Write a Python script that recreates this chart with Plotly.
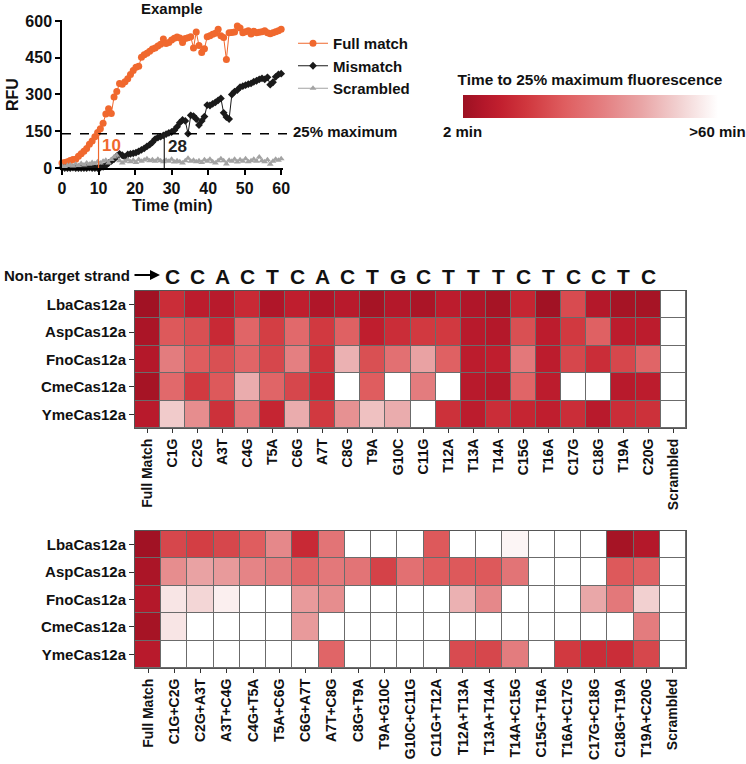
import plotly.graph_objects as go

W, H = 746, 764
FONT = "Liberation Sans, Arial, Helvetica, sans-serif"
ORANGE = "#f0682e"
BLACK = "#1a1a1a"
GRAY = "#a3a3a3"

# ---------------- line chart data ----------------
time_min = [0, 0.75, 1.5, 2.25, 3, 3.75, 4.5, 5.25, 6, 6.75, 7.5, 8.25, 9, 9.75, 10.5, 11.25,
            12, 12.75, 13.5, 14.25, 15, 15.75, 16.5, 17.25, 18, 18.75, 19.5, 20.25, 21, 21.75,
            22.5, 23.25, 24, 24.75, 25.5, 26.25, 27, 27.75, 28.5, 29.25, 30, 30.75, 31.5, 32.25,
            33, 33.75, 34.5, 35.25, 36, 36.75, 37.5, 38.25, 39, 39.75, 40.5, 41.25, 42, 42.75,
            43.5, 44.25, 45, 45.75, 46.5, 47.25, 48, 48.75, 49.5, 50.25, 51, 51.75, 52.5, 53.25,
            54, 54.75, 55.5, 56.25, 57, 57.75, 58.5, 59.25, 60]
full_match = [20, 22, 26, 31, 35, 36, 48, 58, 68, 80, 97, 110, 128, 145, 160, 183,
              220, 242, 222, 290, 312, 345, 342, 352, 364, 382, 398, 411, 415, 452,
              462, 468, 476, 486, 490, 498, 505, 526, 508, 512, 522, 530, 535, 531,
              512, 528, 532, 536, 490, 555, 500, 471, 487, 536, 540, 546, 550, 566,
              540, 533, 443, 552, 553, 555, 580, 571, 552, 556, 560, 547, 558, 552,
              554, 556, 560, 552, 548, 552, 556, 560, 566]
mismatch = [2, 0, 0, 0, 2, 0, 0, 0, 0, 0, 2, 0, 0, 0, 2, 5,
            10, 20, 28, 36, 48, 58, 52, 45, 55, 58, 60, 63, 68, 74,
            80, 88, 95, 105, 118, 124, 128, 133, 138, 143, 147, 154, 168, 185,
            196, 192, 140, 215, 212, 200, 175, 192, 210, 257, 255, 262, 268, 276,
            284, 225, 208, 200, 300, 312, 318, 330, 334, 338, 342, 345, 352, 356,
            362, 366, 362, 370, 340, 350, 372, 382, 385]
scrambled = [8, 5, 10, 12, 8, 15, 10, 18, 12, 20, 15, 22, 18, 25, 20, 28,
             32, 20, 35, 45, 52, 30, 20, 28, 35, 25, 32, 22, 35, 28,
             33, 38, 30, 34, 28, 36, 30, 25, 32, 28, 36, 24, 30, 26,
             20, 30, 40, 28, 32, 25, 30, 22, 34, 28, 36, 26, 20, 30,
             38, 30, 16, 32, 28, 36, 24, 34, 28, 38, 26, 30, 36, 28,
             45, 30, 26, 34, 15, 28, 36, 32, 38]
threshold_rfu = 140          # 25% maximum
cross_full = 10              # minutes
cross_mismatch = 28          # minutes
cross_scrambled_label = ">60"

# ---------------- heatmap data (time to 25% max, minutes; 61 = >60 min) ----------------
NA = 61
enzymes = ["LbaCas12a", "AspCas12a", "FnoCas12a", "CmeCas12a", "YmeCas12a"]
strand_letters = ["C", "C", "A", "C", "T", "C", "A", "C", "T", "G",
                  "C", "T", "T", "T", "C", "T", "C", "C", "T", "C"]
single_cols = ["Full Match", "C1G", "C2G", "A3T", "C4G", "T5A", "C6G", "A7T", "C8G", "T9A",
               "G10C", "C11G", "T12A", "T13A", "T14A", "C15G", "T16A", "C17G", "C18G",
               "T19A", "C20G", "Scrambled"]
single_lba = [3, 14, 9, 8, 13, 6, 10, 6, 8, 4, 7, 5, 9, 6, 4, 12, 3, 21, 7, 4, 4, NA]
single_asp = [5, 24, 22, 13, 27, 18, 28, 17, 26, 10, 14, 17, 17, 8, 7, 22, 9, 17, 26, 9, 9, NA]
single_fno = [7, 33, 25, 22, 27, 20, 34, 15, 45, 22, 30, 42, 26, 9, 10, 32, 9, 20, 14, 20, 27, NA]
single_cme = [4, 28, 17, 24, 44, 27, 20, 13, NA, 25, NA, 33, NA, 8, 7, 27, 9, NA, NA, 8, 9, NA]
single_yme = [8, 50, 37, 15, 32, 12, 44, 17, 38, 48, 44, NA, 15, 9, 14, 12, 10, 14, 8, 14, 15, NA]

double_cols = ["Full Match", "C1G+C2G", "C2G+A3T", "A3T+C4G", "C4G+T5A", "T5A+C6G", "C6G+A7T",
               "A7T+C8G", "C8G+T9A", "T9A+G10C", "G10C+C11G", "C11G+T12A", "T12A+T13A",
               "T13A+T14A", "T14A+C15G", "C15G+T16A", "T16A+C17G", "C17G+C18G", "C18G+T19A",
               "T19A+C20G", "Scrambled"]
double_lba = [3, 20, 18, 20, 25, 36, 13, 31, NA, NA, NA, 24, NA, NA, 58, NA, NA, NA, 4, 7, NA]
double_asp = [5, 37, 42, 40, 35, 33, 27, 32, 31, 19, 30, 25, 24, 24, 31, NA, NA, NA, 24, 26, NA]
double_fno = [7, 55, 52, 57, NA, NA, 40, 37, NA, NA, NA, NA, 45, 36, NA, NA, NA, 43, 32, 51, NA]
double_cme = [4, 55, NA, NA, NA, NA, 40, NA, NA, NA, NA, NA, NA, NA, NA, NA, NA, NA, NA, 33, NA]
double_yme = [8, NA, NA, NA, NA, NA, NA, 27, NA, NA, NA, NA, 21, 20, 33, NA, 17, 14, 14, 20, NA]

cbar_min, cbar_max = 2, 60
cbar_labels = ["2 min", ">60 min"]


def px(x):
    return x / W


def py(y):
    return 1 - y / H


fig = go.Figure()

# line chart traces
fig.add_trace(go.Scatter(x=time_min, y=full_match, name="Full match", mode="lines+markers",
                         line=dict(color=ORANGE, width=1),
                         marker=dict(symbol="circle", size=7, color=ORANGE),
                         cliponaxis=False, xaxis="x", yaxis="y"))
fig.add_trace(go.Scatter(x=time_min, y=mismatch, name="Mismatch", mode="lines+markers",
                         line=dict(color=BLACK, width=1),
                         marker=dict(symbol="diamond", size=6, color=BLACK),
                         cliponaxis=False, xaxis="x", yaxis="y"))
fig.add_trace(go.Scatter(x=time_min, y=scrambled, name="Scrambled", mode="lines+markers",
                         line=dict(color=GRAY, width=1),
                         marker=dict(symbol="triangle-up", size=6, color=GRAY),
                         cliponaxis=False, xaxis="x", yaxis="y"))

# heatmaps
fig.add_trace(go.Heatmap(z=[single_lba, single_asp, single_fno, single_cme, single_yme],
                         x=single_cols, y=enzymes, coloraxis="coloraxis",
                         xgap=1, ygap=1, xaxis="x2", yaxis="y2", hoverinfo="skip"))
fig.add_trace(go.Heatmap(z=[double_lba, double_asp, double_fno, double_cme, double_yme],
                         x=double_cols, y=enzymes, coloraxis="coloraxis",
                         xgap=1, ygap=1, xaxis="x3", yaxis="y3", hoverinfo="skip"))

bold = dict(family=FONT, weight="bold", color="#111111")

line_axis = dict(showline=True, linecolor="black", linewidth=1.5, ticks="outside",
                 ticklen=5, tickwidth=1.5, tickcolor="black", showgrid=False, zeroline=False,
                 tickfont=dict(bold, size=16))

heat_x = dict(type="category", showline=True, mirror=True, linecolor="#555555", linewidth=1,
              ticks="outside", ticklen=4, tickcolor="#333333", tickangle=-90,
              tickfont=dict(bold, size=14), showgrid=False, zeroline=False)
heat_y = dict(type="category", autorange="reversed", showline=True, mirror=True,
              linecolor="#555555", linewidth=1, ticks="outside", ticklen=5, tickcolor="#333333",
              tickfont=dict(bold, size=15), showgrid=False, zeroline=False)

colorscale = [[0.0, "#9c1122"], [0.08, "#b3172a"], [0.15, "#c2202f"], [0.25, "#d0373e"],
              [0.4, "#df5e60"], [0.55, "#e47f81"], [0.7, "#e9a5a6"], [0.85, "#f2d2d2"],
              [1.0, "#ffffff"]]

annotations = [
    dict(text="Example", x=px(172), y=py(8), xref="paper", yref="paper", showarrow=False,
         xanchor="center", yanchor="middle", font=dict(bold, size=15)),
    dict(text="RFU", x=px(13), y=py(95), xref="paper", yref="paper", showarrow=False,
         xanchor="center", yanchor="middle", textangle=-90, font=dict(bold, size=16)),
    dict(text="Time (min)", x=px(172), y=py(206), xref="paper", yref="paper", showarrow=False,
         xanchor="center", yanchor="middle", font=dict(bold, size=16)),
    dict(text=str(cross_full), x=cross_full + 0.4, y=92, xref="x", yref="y", xanchor="left",
         showarrow=False, font=dict(bold, size=17, color=ORANGE)),
    dict(text=str(cross_mismatch), x=cross_mismatch + 0.4, y=88, xref="x", yref="y",
         xanchor="left", showarrow=False, font=dict(bold, size=17, color="#222222")),
    dict(text=cross_scrambled_label, x=60.8, y=92, xref="x", yref="y", xanchor="right",
         showarrow=False, font=dict(bold, size=17, color=GRAY)),
    dict(text="25% maximum", x=px(291), y=threshold_rfu + 10, xref="paper", yref="y",
         xanchor="left", yanchor="middle", showarrow=False, font=dict(bold, size=15)),
    dict(text="Non-target strand", x=px(2), y=py(275), xref="paper", yref="paper",
         xanchor="left", yanchor="middle", showarrow=False, font=dict(bold, size=15)),
    dict(text="", x=px(160), y=py(275), ax=-27, ay=0, xref="paper", yref="paper",
         showarrow=True, arrowhead=2, arrowsize=1, arrowwidth=2, arrowcolor="black"),
]
for col, letter in zip(single_cols[1:-1], strand_letters):
    annotations.append(dict(text=letter, x=col, y=py(276), xref="x2", yref="paper",
                            xanchor="center", yanchor="middle",
                            showarrow=False, font=dict(bold, size=21)))

shapes = [
    dict(type="line", xref="paper", yref="y", x0=px(62), x1=px(289), y0=threshold_rfu,
         y1=threshold_rfu, line=dict(color="black", width=1.5, dash="dash")),
    dict(type="line", xref="x", yref="y", x0=cross_full, x1=cross_full, y0=0,
         y1=threshold_rfu, line=dict(color=ORANGE, width=1.2)),
    dict(type="line", xref="x", yref="y", x0=cross_mismatch, x1=cross_mismatch, y0=0,
         y1=threshold_rfu, line=dict(color="#222222", width=1.2)),
    dict(type="rect", xref="x2 domain", yref="y2 domain", x0=0, x1=1, y0=0, y1=1,
         fillcolor="#6b6b6b", line=dict(width=0), layer="below"),
    dict(type="rect", xref="x3 domain", yref="y3 domain", x0=0, x1=1, y0=0, y1=1,
         fillcolor="#6b6b6b", line=dict(width=0), layer="below"),
]

fig.update_layout(
    width=W, height=H, margin=dict(l=0, r=0, t=0, b=0, autoexpand=False),
    paper_bgcolor="white", plot_bgcolor="white",
    font=dict(family=FONT, color="#111111"),
    xaxis=dict(line_axis, domain=[px(62), px(283)], range=[0, 60.5], tickvals=[0, 10, 20, 30, 40, 50, 60],
               anchor="y"),
    yaxis=dict(line_axis, domain=[py(168), py(20)], range=[0, 604], tickvals=[0, 150, 300, 450, 600],
               anchor="x"),
    xaxis2=dict(heat_x, domain=[px(135), px(686)], anchor="y2", categoryarray=single_cols,
                categoryorder="array"),
    yaxis2=dict(heat_y, domain=[py(428), py(291)], anchor="x2"),
    xaxis3=dict(heat_x, domain=[px(135), px(686)], anchor="y3", categoryarray=double_cols,
                categoryorder="array"),
    yaxis3=dict(heat_y, domain=[py(668), py(531)], anchor="x3"),
    coloraxis=dict(
        colorscale=colorscale, cmin=cbar_min, cmax=cbar_max,
        colorbar=dict(orientation="h", x=px(590), xanchor="center", y=py(78), yanchor="top",
                      lenmode="pixels", len=255, thickness=23, outlinewidth=0,
                      xpad=0, ypad=0,
                      tickvals=[cbar_min, cbar_max], ticktext=cbar_labels, ticks="",
                      tickfont=dict(bold, size=15),
                      title=dict(text="Time to 25% maximum fluorescence", side="top",
                                 font=dict(bold, size=15.4))),
    ),
    legend=dict(x=px(293), y=py(27), xanchor="left", yanchor="top", font=dict(bold, size=15),
                itemwidth=30, bgcolor="rgba(0,0,0,0)", tracegroupgap=0),
    showlegend=True,
    annotations=annotations,
    shapes=shapes,
)

fig.write_html("out.html", config={"displayModeBar": False},
               post_script=["document.body.style.margin='0px';"
                            "document.body.style.overflow='hidden';"])
